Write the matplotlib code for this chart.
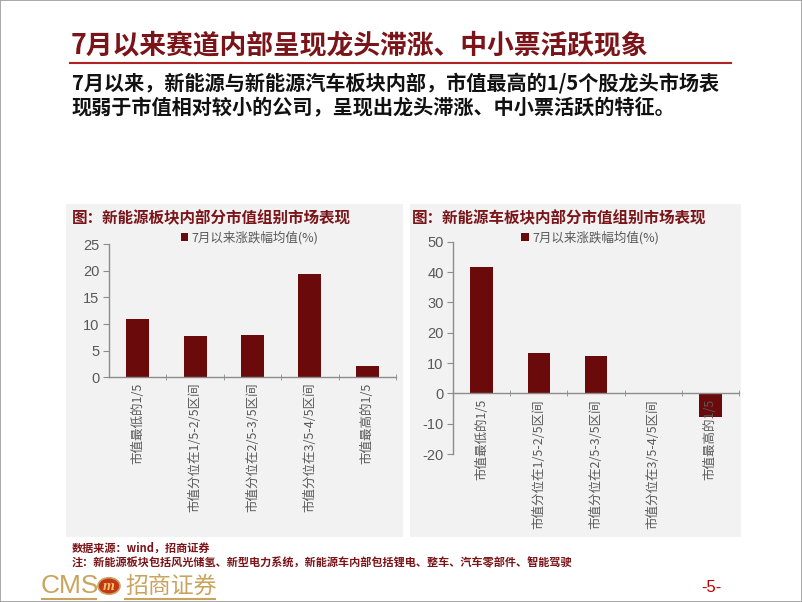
import matplotlib
matplotlib.use("Agg")
import matplotlib.pyplot as plt
from matplotlib.patches import Rectangle, Circle
from matplotlib.lines import Line2D

plt.rcParams['font.family'] = ['Noto Sans CJK SC', 'DejaVu Sans']
plt.rcParams['axes.unicode_minus'] = False

# ---------------- data ----------------
title = "7月以来赛道内部呈现龙头滞涨、中小票活跃现象"
body1 = "7月以来，新能源与新能源汽车板块内部，市值最高的1/5个股龙头市场表"
body2 = "现弱于市值相对较小的公司，呈现出龙头滞涨、中小票活跃的特征。"
left_title = "图：新能源板块内部分市值组别市场表现"
right_title = "图：新能源车板块内部分市值组别市场表现"
series_name = "7月以来涨跌幅均值(%)"
categories = ["市值最低的1/5", "市值分位在1/5-2/5区间", "市值分位在2/5-3/5区间",
              "市值分位在3/5-4/5区间", "市值最高的1/5"]
left_values = [10.9, 7.75, 7.95, 19.5, 2.2]
right_values = [41.8, 13.2, 12.3, -0.2, -7.8]
left_yticks = [0, 5, 10, 15, 20, 25]
right_yticks = [-20, -10, 0, 10, 20, 30, 40, 50]
source_text = "数据来源：wind，招商证券"
note_text = "注：新能源板块包括风光储氢、新型电力系统，新能源车内部包括锂电、整车、汽车零部件、智能驾驶"
page_text = "-5-"

W, H = 802, 602
fig = plt.figure(figsize=(W / 100, H / 100), dpi=100)
fig.patch.set_facecolor("white")

def fx(x):
    return x / W

def fy(y):
    return 1 - y / H

def box(x0, y0, x1, y1):
    return [fx(x0), fy(y1), (x1 - x0) / W, (y1 - y0) / H]

DARKRED = "#7A1418"
BAR = "#6B0A0A"
GRAY = "#595959"
AXC = "#8C8C8C"
GOLD = "#C9A45E"

# slide border
fig.patches.append(Rectangle((0, 0), 1, 1, transform=fig.transFigure, fill=False,
                             edgecolor="#9A9A9A", lw=1.2, zorder=5))

# heading
fig.text(fx(71), fy(45), title, fontsize=19.3, fontweight="bold", color=DARKRED,
         ha="left", va="center")
fig.add_artist(Line2D([fx(70), fx(731)], [fy(63), fy(63)], color="#B22222", lw=1.5,
                      transform=fig.transFigure))
fig.text(fx(72), fy(83), body1, fontsize=14.5, fontweight="bold", color="#111111",
         ha="left", va="center")
fig.text(fx(72), fy(108), body2, fontsize=14.5, fontweight="bold", color="#111111",
         ha="left", va="center")

# panel backgrounds
for (x0, x1) in [(66, 403), (410, 741)]:
    fig.patches.append(Rectangle((fx(x0), fy(537)), (x1 - x0) / W, (537 - 204) / H,
                                 transform=fig.transFigure, facecolor="#F2F2F2",
                                 edgecolor="none", zorder=-5))

fig.text(fx(72), fy(218), left_title, fontsize=11.2, fontweight="bold", color=DARKRED,
         ha="left", va="center")
fig.text(fx(412), fy(218), right_title, fontsize=11.2, fontweight="bold", color=DARKRED,
         ha="left", va="center")


def style_axes(ax, values, yticks, ylim, legend_anchor):
    x = list(range(len(categories)))
    ax.set_facecolor("none")
    ax.bar(x, values, width=0.4, color=BAR, label=series_name, zorder=1)
    ax.set_xlim(-0.5, len(categories) - 0.5)
    ax.set_ylim(*ylim)
    ax.set_yticks(yticks)
    for s in ["top", "right"]:
        ax.spines[s].set_visible(False)
    for s in ["left", "bottom"]:
        ax.spines[s].set_color(AXC)
        ax.spines[s].set_linewidth(1.0)
    ax.spines["bottom"].set_position(("data", 0))
    ax.set_xticks(x)
    ax.set_xticklabels(categories, rotation=90, fontsize=9, color=GRAY)
    ax.set_xticks([i + 0.5 for i in x], minor=True)
    ax.tick_params(axis="x", which="major", length=0, pad=4)
    ax.tick_params(axis="x", which="minor", length=5, direction="inout", color=AXC)
    ax.tick_params(axis="y", length=4, direction="out", color=AXC, labelcolor=GRAY,
                   labelsize=10.5, pad=3)
    for lab in ax.get_yticklabels():
        lab.set_fontfamily("Liberation Sans")
    leg = ax.legend(loc="center", bbox_to_anchor=legend_anchor, frameon=False,
                    fontsize=9, handlelength=0.6, handleheight=0.6, handletextpad=0.3,
                    borderpad=0, borderaxespad=0)
    for t in leg.get_texts():
        t.set_color(GRAY)


axL = fig.add_axes(box(109, 244.3, 396, 377.3))
style_axes(axL, left_values, left_yticks, (0, 25), (0.49, 1.05))

axR = fig.add_axes(box(453.3, 241.7, 738.7, 454))
style_axes(axR, right_values, right_yticks, (-20, 50), (0.48, 1.02))

# footnotes
fig.text(fx(72), fy(548), source_text, fontsize=8, fontweight="bold", color=DARKRED,
         ha="left", va="center")
fig.text(fx(72), fy(563), note_text, fontsize=8, fontweight="bold", color=DARKRED,
         ha="left", va="center")

# logo
fig.text(fx(41), fy(586), "CMS", fontsize=19, color=GOLD, ha="left", va="center",
         family="Liberation Sans")
fig.patches.append(Circle((fx(109), fy(586)), 11 / W, transform=fig.transFigure,
                          facecolor="#C2361B", edgecolor=GOLD, lw=1.2))
fig.text(fx(109), fy(587), "m", fontsize=11, fontweight="bold", color="#F2C65A",
         ha="center", va="center", family="Liberation Serif", style="italic")
fig.text(fx(125), fy(586), "招商证券", fontsize=16.5, color=GOLD, ha="left", va="center")
fig.add_artist(Line2D([fx(42), fx(96)], [fy(599), fy(599)], color=GOLD, lw=1.5,
                      transform=fig.transFigure))
fig.add_artist(Line2D([fx(125), fx(215)], [fy(599), fy(599)], color=GOLD, lw=1.5,
                      transform=fig.transFigure))
fig.text(fx(711), fy(587), page_text, fontsize=12, color="#C00000", ha="center",
         va="center", family="Liberation Sans")

fig.savefig("out.png", dpi=100)
